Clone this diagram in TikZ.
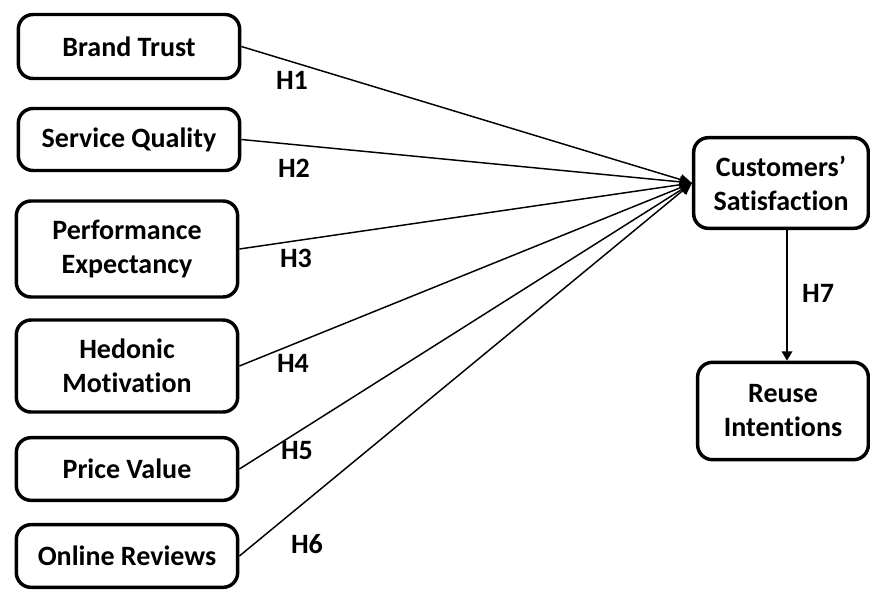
\documentclass[tikz,border=0pt]{standalone}
\usepackage{fontspec}
\setmainfont{Carlito}[Ligatures=NoCommon]
\usetikzlibrary{positioning,arrows.meta}

\begin{document}
\begin{tikzpicture}[x=0.75pt,y=-0.75pt,
    box/.style={draw,line width=2.6pt,rounded corners=11pt,align=center,inner sep=0pt,
      font=\bfseries\fontsize{21}{25.5}\selectfont},
    factor/.style={box,minimum width=166pt},
    outcome/.style={box,minimum width=131pt},
    hyp/.style={font=\bfseries\fontsize{21}{24}\selectfont},
    link/.style={line width=1.1pt,-{Triangle[length=9pt,width=8pt]}}]
  \useasboundingbox (0,0) rectangle (870,590);
  \node[factor,minimum height=48pt] (bt) at (129,46.5) {Brand Trust};
  \node[factor,minimum height=46.5pt] (sq) at (129,139.5) {Service Quality};
  \node[factor,minimum height=72pt] (pe) at (127,249) {Performance\\Expectancy};
  \node[factor,minimum height=69pt] (hm) at (127,366) {Hedonic\\Motivation};
  \node[factor,minimum height=47pt] (pv) at (127,469) {Price Value};
  \node[factor,minimum height=47pt] (or) at (127,556) {Online Reviews};
  \node[outcome,minimum height=68pt] (sat) at (781,183) {Customers’\\Satisfaction};
  \node[outcome,minimum height=73pt,minimum width=128pt] (reuse) at (783,411) {Reuse\\Intentions};
  \foreach \f in {bt,sq,pe,hm,pv,or} \draw[link] (\f.east) -- (sat.west);
  \coordinate (top7) at ([xshift=4.5pt]sat.south);
  \draw[line width=1.1pt,-{Triangle[length=7pt,width=8pt]}] (top7) -- (top7 |- reuse.north);
  \foreach \i/\x/\y in {1/292/80,2/294/168,3/296/258,4/293/363,5/297/451,6/307/544,7/818/293}
    \node[hyp] (h\i) at (\x,\y) {H\i};
\end{tikzpicture}
\end{document}
